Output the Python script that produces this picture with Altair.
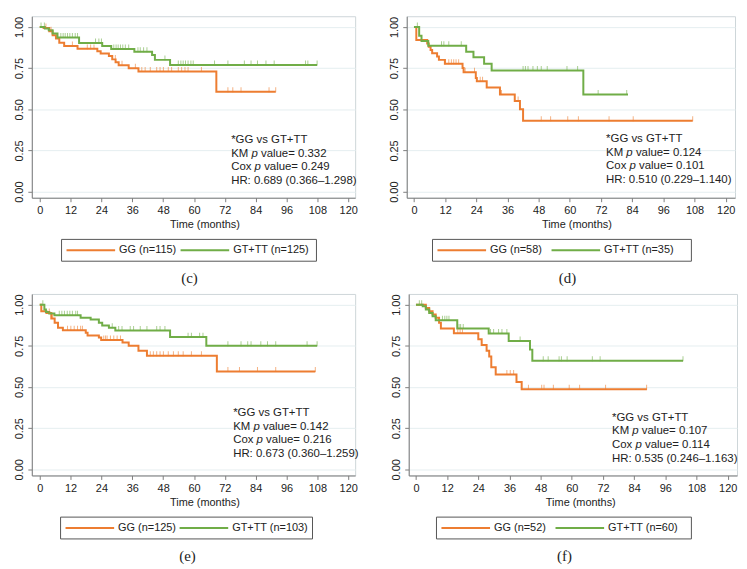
import altair as alt
import pandas as pd

ORANGE = "#ED7D31"
GREEN = "#70AD47"
SANS = "Liberation Sans"
SERIF = "Liberation Serif"

# ---------------- panel (c) ----------------
c_gg_t = [0, 1.5, 3.7, 5.0, 6.3, 7.6, 9.5, 14.7, 22.4, 23.7, 26.9, 28.2, 29.5, 30.7, 34.6, 38.4, 68.7, 91.8]
c_gg_s = [1.0, 0.994, 0.974, 0.95, 0.93, 0.904, 0.884, 0.867, 0.853, 0.839, 0.823, 0.803, 0.785, 0.767, 0.749, 0.729, 0.606, 0.606]
c_gt_t = [0, 2.0, 3.5, 5.0, 6.9, 15.3, 24.3, 27.8, 36.8, 43.7, 44.8, 50.7, 107.9]
c_gt_s = [1.0, 0.99, 0.98, 0.96, 0.936, 0.903, 0.884, 0.866, 0.849, 0.83, 0.80, 0.769, 0.769]
c_gg_cens = [2.4, 4.4, 12.7, 18.5, 19.8, 21.1, 29.4, 32.0, 37.2, 39.7, 41.0, 43.0, 45.5, 46.8, 48.1, 50.0, 51.3, 53.9, 55.2, 56.5, 57.7, 62.9, 73.2, 75.1, 78.3, 89.2, 91.8]
c_gt_cens = [0.5, 1.8, 8.2, 9.1, 9.9, 10.8, 11.7, 12.7, 13.8, 14.7, 21.7, 23.0, 24.0, 28.8, 29.7, 30.5, 31.4, 32.3, 33.3, 34.6, 38.2, 39.1, 40.4, 41.7, 48.7, 53.9, 54.9, 55.8, 56.7, 57.7, 58.8, 59.7, 68.0, 73.2, 79.6, 82.2, 84.7, 88.0, 91.2, 103.4, 104.3, 107.9]
c_labels = ["GG (n=115)", "GT+TT (n=125)"]
c_stats = ["0.332", "0.249", "HR: 0.689 (0.366\u20131.298)"]

# ---------------- panel (d) ----------------
d_gg_t = [0, 0.9, 5.1, 5.7, 6.4, 7.0, 8.9, 9.6, 11.9, 18.7, 19.1, 23.8, 24.2, 28.0, 33.1, 38.8, 40.8, 42.0, 107.3]
d_gg_s = [1.0, 0.92, 0.90, 0.88, 0.86, 0.84, 0.82, 0.80, 0.776, 0.75, 0.725, 0.69, 0.67, 0.632, 0.59, 0.55, 0.50, 0.43, 0.43]
d_gt_t = [0, 2.0, 2.9, 5.5, 20.1, 22.9, 27.0, 29.9, 65.2, 82.4]
d_gt_s = [1.0, 0.946, 0.914, 0.886, 0.85, 0.816, 0.776, 0.736, 0.59, 0.59]
d_gg_cens = [12.1, 13.4, 14.4, 15.3, 16.2, 17.2, 19.7, 23.3, 25.5, 26.4, 33.7, 40.1, 49.0, 52.6, 59.2, 63.3, 75.1, 84.4, 107.3]
d_gt_cens = [1.3, 10.6, 11.5, 13.4, 18.2, 42.0, 42.9, 43.9, 45.8, 47.5, 49.0, 51.3, 58.9, 63.0, 70.9, 81.9]
d_labels = ["GG (n=58)", "GT+TT (n=35)"]
d_stats = ["0.124", "0.101", "HR: 0.510 (0.229\u20131.140)"]

# ---------------- panel (e) ----------------
e_gg_t = [0, 0.6, 2.6, 4.5, 5.8, 7.1, 9.0, 17.9, 18.6, 23.0, 23.9, 32.2, 34.6, 38.4, 41.7, 68.9, 107.2]
e_gg_s = [1.0, 0.96, 0.95, 0.916, 0.89, 0.86, 0.845, 0.83, 0.813, 0.80, 0.785, 0.77, 0.75, 0.72, 0.69, 0.594, 0.594]
e_gt_t = [0, 1.8, 2.4, 3.7, 5.7, 15.9, 19.8, 23.0, 24.3, 26.9, 29.4, 50.7, 64.8, 107.9]
e_gt_s = [1.0, 0.97, 0.955, 0.946, 0.936, 0.92, 0.91, 0.89, 0.873, 0.86, 0.843, 0.803, 0.751, 0.751]
e_gg_cens = [3.7, 5.0, 10.8, 12.1, 13.4, 14.7, 15.9, 16.6, 24.9, 25.6, 26.2, 27.5, 28.8, 30.1, 31.4, 43.0, 44.2, 45.5, 46.8, 48.1, 50.0, 52.0, 53.9, 55.8, 59.0, 62.9, 73.2, 77.7, 84.7, 91.8, 107.2]
e_gt_cens = [1.2, 7.6, 8.6, 9.6, 10.7, 11.7, 12.7, 14.0, 14.7, 28.2, 30.7, 32.0, 35.2, 36.5, 39.1, 41.7, 45.5, 46.8, 48.7, 57.7, 59.0, 62.2, 63.5, 73.2, 78.3, 80.9, 82.2, 86.0, 88.6, 91.8, 104.0, 107.9]
e_labels = ["GG (n=125)", "GT+TT (n=103)"]
e_stats = ["0.142", "0.216", "HR: 0.673 (0.360\u20131.259)"]

# ---------------- panel (f) ----------------
f_gg_t = [0, 3.8, 5.1, 6.4, 7.6, 8.9, 9.6, 14.6, 24.0, 25.3, 27.2, 28.2, 29.0, 30.7, 38.7, 40.7, 88.9]
f_gg_s = [1.0, 0.98, 0.96, 0.94, 0.92, 0.89, 0.855, 0.826, 0.79, 0.755, 0.72, 0.685, 0.62, 0.576, 0.53, 0.487, 0.487]
f_gt_t = [0, 2.6, 3.8, 5.1, 6.4, 7.6, 15.9, 28.0, 35.7, 43.9, 44.8, 102.8]
f_gt_s = [1.0, 0.99, 0.97, 0.95, 0.93, 0.906, 0.855, 0.825, 0.78, 0.727, 0.66, 0.66]
f_gg_cens = [16.1, 17.0, 17.9, 35.0, 36.3, 37.6, 43.3, 48.4, 49.3, 52.9, 59.0, 63.0, 73.0, 88.8]
f_gt_cens = [1.3, 2.2, 10.2, 11.1, 11.9, 12.7, 16.6, 17.2, 18.2, 28.7, 29.9, 31.8, 33.1, 35.0, 40.1, 49.0, 50.9, 55.1, 56.0, 58.2, 67.9, 70.9, 102.8]
f_labels = ["GG (n=52)", "GT+TT (n=60)"]
f_stats = ["0.107", "0.114", "HR: 0.535 (0.246\u20131.163)"]

x_ticks = list(range(0, 121, 12))
y_ticks = [0, 0.25, 0.5, 0.75, 1.0]


def step_value(times, surv, t):
    v = surv[0]
    for ti, si in zip(times, surv):
        if ti <= t:
            v = si
    return v


def panel(gg_t, gg_s, gt_t, gt_s, gg_c, gt_c, labels, stats, caption,
          w, h, xdom, ydom, ann, leg, cap, title_x):
    lines_df = pd.DataFrame(
        [{"group": labels[0], "t": t, "s": s} for t, s in zip(gg_t, gg_s)]
        + [{"group": labels[1], "t": t, "s": s} for t, s in zip(gt_t, gt_s)]
    )
    gg_cdf = pd.DataFrame({"t": gg_c, "s": [step_value(gg_t, gg_s, t) for t in gg_c]})
    gt_cdf = pd.DataFrame({"t": gt_c, "s": [step_value(gt_t, gt_s, t) for t in gt_c]})

    xs = alt.Scale(domain=xdom, nice=False, zero=False)
    ys = alt.Scale(domain=ydom, nice=False, zero=False)
    xax = alt.Axis(values=x_ticks, title="Time (months)", grid=False, labelFlush=False,
                   labelOverlap=False, labelPadding=3, titlePadding=3, titleX=title_x,
                   titleAlign="center")
    yax = alt.Axis(values=y_ticks, format=".2f", title=None, grid=True, labelAngle=270,
                   labelAlign="center", labelBaseline="bottom", labelPadding=3,
                   labelOverlap=False)
    X = alt.X("t:Q", scale=xs, axis=xax)
    Y = alt.Y("s:Q", scale=ys, axis=yax)

    lines = alt.Chart(lines_df).mark_line(interpolate="step-after", strokeWidth=2).encode(
        x=X, y=Y,
        color=alt.Color("group:N", scale=alt.Scale(domain=labels, range=[ORANGE, GREEN]),
                        legend=None),
    )
    tk_gg = alt.Chart(gg_cdf).mark_tick(orient="vertical", size=5, thickness=1, yOffset=-2,
                                        color=ORANGE, opacity=0.6).encode(x=X, y=Y)
    tk_gt = alt.Chart(gt_cdf).mark_tick(orient="vertical", size=5, thickness=1, yOffset=-2,
                                        color=GREEN, opacity=0.6).encode(x=X, y=Y)

    one = pd.DataFrame({"k": [0]})
    fs = 11.5
    lh = 13.7
    x0, y0 = ann
    w_km = (0.667 + 0.833 + 0.278) * fs
    w_kmp = w_km + (0.556 + 0.278) * fs
    w_cox = (0.722 + 0.556 + 0.5 + 0.278) * fs
    w_coxp = w_cox + (0.556 + 0.278) * fs
    pieces = [
        ("*GG vs GT+TT", x0, y0, "normal"),
        ("KM", x0, y0 + lh, "normal"),
        ("p", x0 + w_km, y0 + lh, "italic"),
        ("value= " + stats[0], x0 + w_kmp, y0 + lh, "normal"),
        ("Cox", x0, y0 + 2 * lh, "normal"),
        ("p", x0 + w_cox, y0 + 2 * lh, "italic"),
        ("value= " + stats[1], x0 + w_coxp, y0 + 2 * lh, "normal"),
        (stats[2], x0, y0 + 3 * lh, "normal"),
    ]
    layers = [lines, tk_gg, tk_gt]
    for txt, tx, ty, style in pieces:
        layers.append(
            alt.Chart(one).mark_text(text=txt, align="left", baseline="middle", font=SANS,
                                     fontSize=fs, fontStyle=style, color="#222").encode(
                x=alt.value(tx), y=alt.value(ty))
        )

    # legend box (framed key below the plot)
    lx, ly, bw = leg
    bh = 22
    ym = ly + bh / 2
    layers.append(
        alt.Chart(one).mark_rect(fill="white", stroke="#555", strokeWidth=1).encode(
            x=alt.value(lx), x2=alt.value(lx + bw), y=alt.value(ly), y2=alt.value(ly + bh))
    )
    for i, (col, lab) in enumerate(zip([ORANGE, GREEN], labels)):
        sx = lx + 5 + i * 115
        layers.append(
            alt.Chart(one).mark_rule(color=col, strokeWidth=2).encode(
                x=alt.value(sx), x2=alt.value(sx + 49), y=alt.value(ym))
        )
        layers.append(
            alt.Chart(one).mark_text(text=lab, align="left", baseline="middle", font=SANS,
                                     fontSize=11, color="#222").encode(
                x=alt.value(sx + 53), y=alt.value(ym))
        )

    layers.append(
        alt.Chart(one).mark_text(text=caption, align="center", baseline="middle",
                                 font=SERIF, fontSize=15, color="#222").encode(
            x=alt.value(cap[0]), y=alt.value(cap[1]))
    )
    return alt.layer(*layers).properties(width=w, height=h)


ydom = [-0.037, 1.065]
pc = panel(c_gg_t, c_gg_s, c_gt_t, c_gt_s, c_gg_cens, c_gt_cens, c_labels, c_stats, "(c)",
           326, 183, [-3.09, 122.7], ydom, (201, 125), (30, 225, 257), (159, 264), 174)
pdd = panel(d_gg_t, d_gg_s, d_gt_t, d_gt_s, d_gg_cens, d_gt_cens, d_labels, d_stats, "(d)",
            331, 183, [-2.79, 123.6], ydom, (201, 124), (26, 225, 261), (162, 264), 171)
pe = panel(e_gg_t, e_gg_s, e_gt_t, e_gt_s, e_gg_cens, e_gt_cens, e_labels, e_stats, "(e)",
           326, 183, [-3.09, 122.7], ydom, (203, 120), (29, 225, 254), (157, 264), 174)
pf = panel(f_gg_t, f_gg_s, f_gt_t, f_gt_s, f_gg_cens, f_gt_cens, f_labels, f_stats, "(f)",
           331, 183, [-2.79, 123.6], ydom, (205, 125), (28, 225, 257), (157, 264), 173)

row1 = alt.hconcat(pc, pdd, spacing=30).resolve_scale(x="independent", y="independent", color="independent")
row2 = alt.hconcat(pe, pf, spacing=30).resolve_scale(x="independent", y="independent", color="independent")

chart = alt.vconcat(row1, row2, spacing=6).resolve_scale(
    x="independent", y="independent", color="independent"
).configure(
    padding={"left": 5, "top": 5, "right": 0, "bottom": 0},
    background="white",
).configure_view(
    stroke="#CDD6D9", strokeWidth=1
).configure_axis(
    labelFont=SANS, labelFontSize=11, labelColor="#222", labelOverlap=False,
    titleFont=SANS, titleFontSize=11, titleFontWeight="normal", titleColor="#222",
    domainColor="#7d7d7d", tickColor="#7d7d7d", tickSize=4,
    gridColor="#E5EEF0", gridWidth=1,
)

chart.save("out.html", embed_options={"renderer": "svg", "actions": False})
